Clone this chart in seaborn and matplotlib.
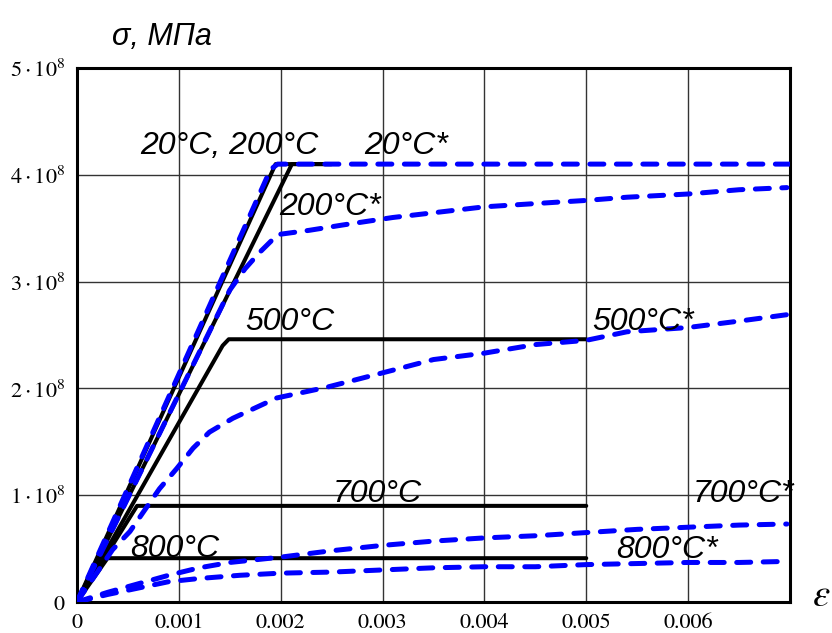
import numpy as np
import pandas as pd
import matplotlib
matplotlib.use("Agg")
import matplotlib.pyplot as plt
import seaborn as sns

# ---- data (strain, stress in Pa) ----
# solid black: bilinear (elastic - perfectly plastic) models
eps_20 = [0.0, 0.00195, 0.0025]
sig_20 = [0.0, 4.1e8, 4.1e8]
eps_200 = [0.0, 0.00211, 0.0025]
sig_200 = [0.0, 4.1e8, 4.1e8]
eps_500 = [0.0, 0.00143, 0.00149, 0.005]
sig_500 = [0.0, 2.40e8, 2.46e8, 2.46e8]
eps_700 = [0.0, 0.00059, 0.005]
sig_700 = [0.0, 0.90e8, 0.90e8]
eps_800 = [0.0, 0.00030, 0.005]
sig_800 = [0.0, 0.41e8, 0.41e8]

# blue dashed: curves marked with *
eps_20s = [0.0, 0.00190, 0.00197, 0.0070]
sig_20s = [0.0, 4.05e8, 4.1e8, 4.1e8]
eps_200s = [0.0, 0.0015, 0.00165, 0.00179, 0.00197, 0.00228, 0.00261, 0.0031,
            0.0040, 0.00474, 0.0050, 0.0054, 0.0060, 0.0065, 0.00697]
sig_200s = [0.0, 2.92e8, 3.12e8, 3.27e8, 3.44e8, 3.48e8, 3.53e8, 3.60e8,
            3.70e8, 3.745e8, 3.76e8, 3.79e8, 3.82e8, 3.86e8, 3.88e8]
eps_500s = [0.0, 0.00035, 0.00052, 0.00065, 0.00081, 0.00098, 0.00114, 0.0013,
            0.00153, 0.00196, 0.00245, 0.0031, 0.0035, 0.0040, 0.0045, 0.0050,
            0.0054, 0.0060, 0.0065, 0.00697]
sig_500s = [0.0, 0.49e8, 0.66e8, 0.84e8, 1.06e8, 1.25e8, 1.44e8, 1.59e8,
            1.72e8, 1.91e8, 2.01e8, 2.17e8, 2.27e8, 2.33e8, 2.41e8, 2.45e8,
            2.53e8, 2.57e8, 2.63e8, 2.69e8]
eps_700s = [0.0, 0.0003, 0.0006, 0.0009, 0.0012, 0.0015, 0.0020, 0.0025, 0.0030,
            0.0035, 0.0040, 0.0045, 0.0050, 0.0055, 0.0060, 0.0065, 0.00697]
sig_700s = [0.0, 0.09e8, 0.17e8, 0.25e8, 0.32e8, 0.37e8, 0.42e8, 0.48e8, 0.53e8,
            0.57e8, 0.60e8, 0.62e8, 0.65e8, 0.68e8, 0.70e8, 0.72e8, 0.73e8]
eps_800s = [0.0, 0.0003, 0.0006, 0.0009, 0.0012, 0.0016, 0.0020, 0.0025, 0.0030,
            0.0035, 0.0040, 0.0045, 0.0050, 0.0055, 0.0060, 0.0065, 0.00697]
sig_800s = [0.0, 0.07e8, 0.13e8, 0.19e8, 0.22e8, 0.25e8, 0.27e8, 0.28e8, 0.30e8,
            0.32e8, 0.33e8, 0.33e8, 0.35e8, 0.36e8, 0.37e8, 0.37e8, 0.38e8]

x_ticks = [0, 0.001, 0.002, 0.003, 0.004, 0.005, 0.006]
x_ticklabels = ["0", "0.001", "0.002", "0.003", "0.004", "0.005", "0.006"]
y_ticks = [0, 1e8, 2e8, 3e8, 4e8, 5e8]
y_ticklabels = [r"$0$", r"$1\cdot10^{8}$", r"$2\cdot10^{8}$", r"$3\cdot10^{8}$",
                r"$4\cdot10^{8}$", r"$5\cdot10^{8}$"]

labels = ["20°C, 200°C", "20°C*", "200°C*", "500°C", "500°C*",
          "700°C", "700°C*", "800°C", "800°C*"]
label_x = [0.00062, 0.00282, 0.00199, 0.00165, 0.00506,
           0.00251, 0.00604, 0.00052, 0.00529]
label_y = [4.19e8, 4.19e8, 3.62e8, 2.55e8, 2.55e8,
           0.94e8, 0.94e8, 0.42e8, 0.41e8]

# ---- plot ----
sns.set_style("white")
plt.rcParams["mathtext.fontset"] = "stix"
plt.rcParams["text.color"] = "black"

fig = plt.figure(figsize=(8.32, 6.33), dpi=100)
ax = fig.add_axes([0.0925, 0.049, 0.857, 0.8436])

solid = [(eps_20, sig_20), (eps_200, sig_200), (eps_500, sig_500),
         (eps_700, sig_700), (eps_800, sig_800)]
dashed = [(eps_20s, sig_20s), (eps_200s, sig_200s), (eps_500s, sig_500s),
          (eps_700s, sig_700s), (eps_800s, sig_800s)]

for ex, sy in solid:
    sns.lineplot(x=ex, y=sy, sort=False, estimator=None, color="black",
                 lw=2.9, ax=ax, solid_joinstyle="round", zorder=3)
for ex, sy in dashed:
    sns.lineplot(x=ex, y=sy, sort=False, estimator=None, color="#0000ff",
                 lw=3.6, ax=ax, linestyle=(0, (2.8, 2.5)),
                 dash_capstyle="round", zorder=4)

ax.set_xlim(0, 0.007)
ax.set_ylim(0, 5e8)
ax.set_xticks(x_ticks)
ax.set_xticklabels(x_ticklabels, fontfamily="STIXGeneral", fontsize=16)
ax.set_yticks(y_ticks)
ax.set_yticklabels(y_ticklabels, fontsize=16)
ax.tick_params(length=0, pad=8, labelcolor="black")
ax.set_xlabel("")
ax.set_ylabel("")
ax.grid(True, color="#333333", lw=1.0, zorder=1)
ax.set_axisbelow(True)
for sp in ax.spines.values():
    sp.set_visible(True)
    sp.set_color("black")
    sp.set_linewidth(2.2)

for t, xx, yy in zip(labels, label_x, label_y):
    ax.text(xx, yy, t, fontfamily="Liberation Sans", style="italic",
            fontsize=23, ha="left", va="baseline", color="black", zorder=5)

fig.text(112 / 832, (633 - 45) / 633, "σ, МПа", fontfamily="Liberation Sans",
         style="italic", fontsize=22, ha="left", va="baseline", color="black")
fig.text(812 / 832, (633 - 606) / 633, r"$\varepsilon$", fontsize=28,
         ha="left", va="baseline", color="black")

fig.savefig("out.png", dpi=100)
